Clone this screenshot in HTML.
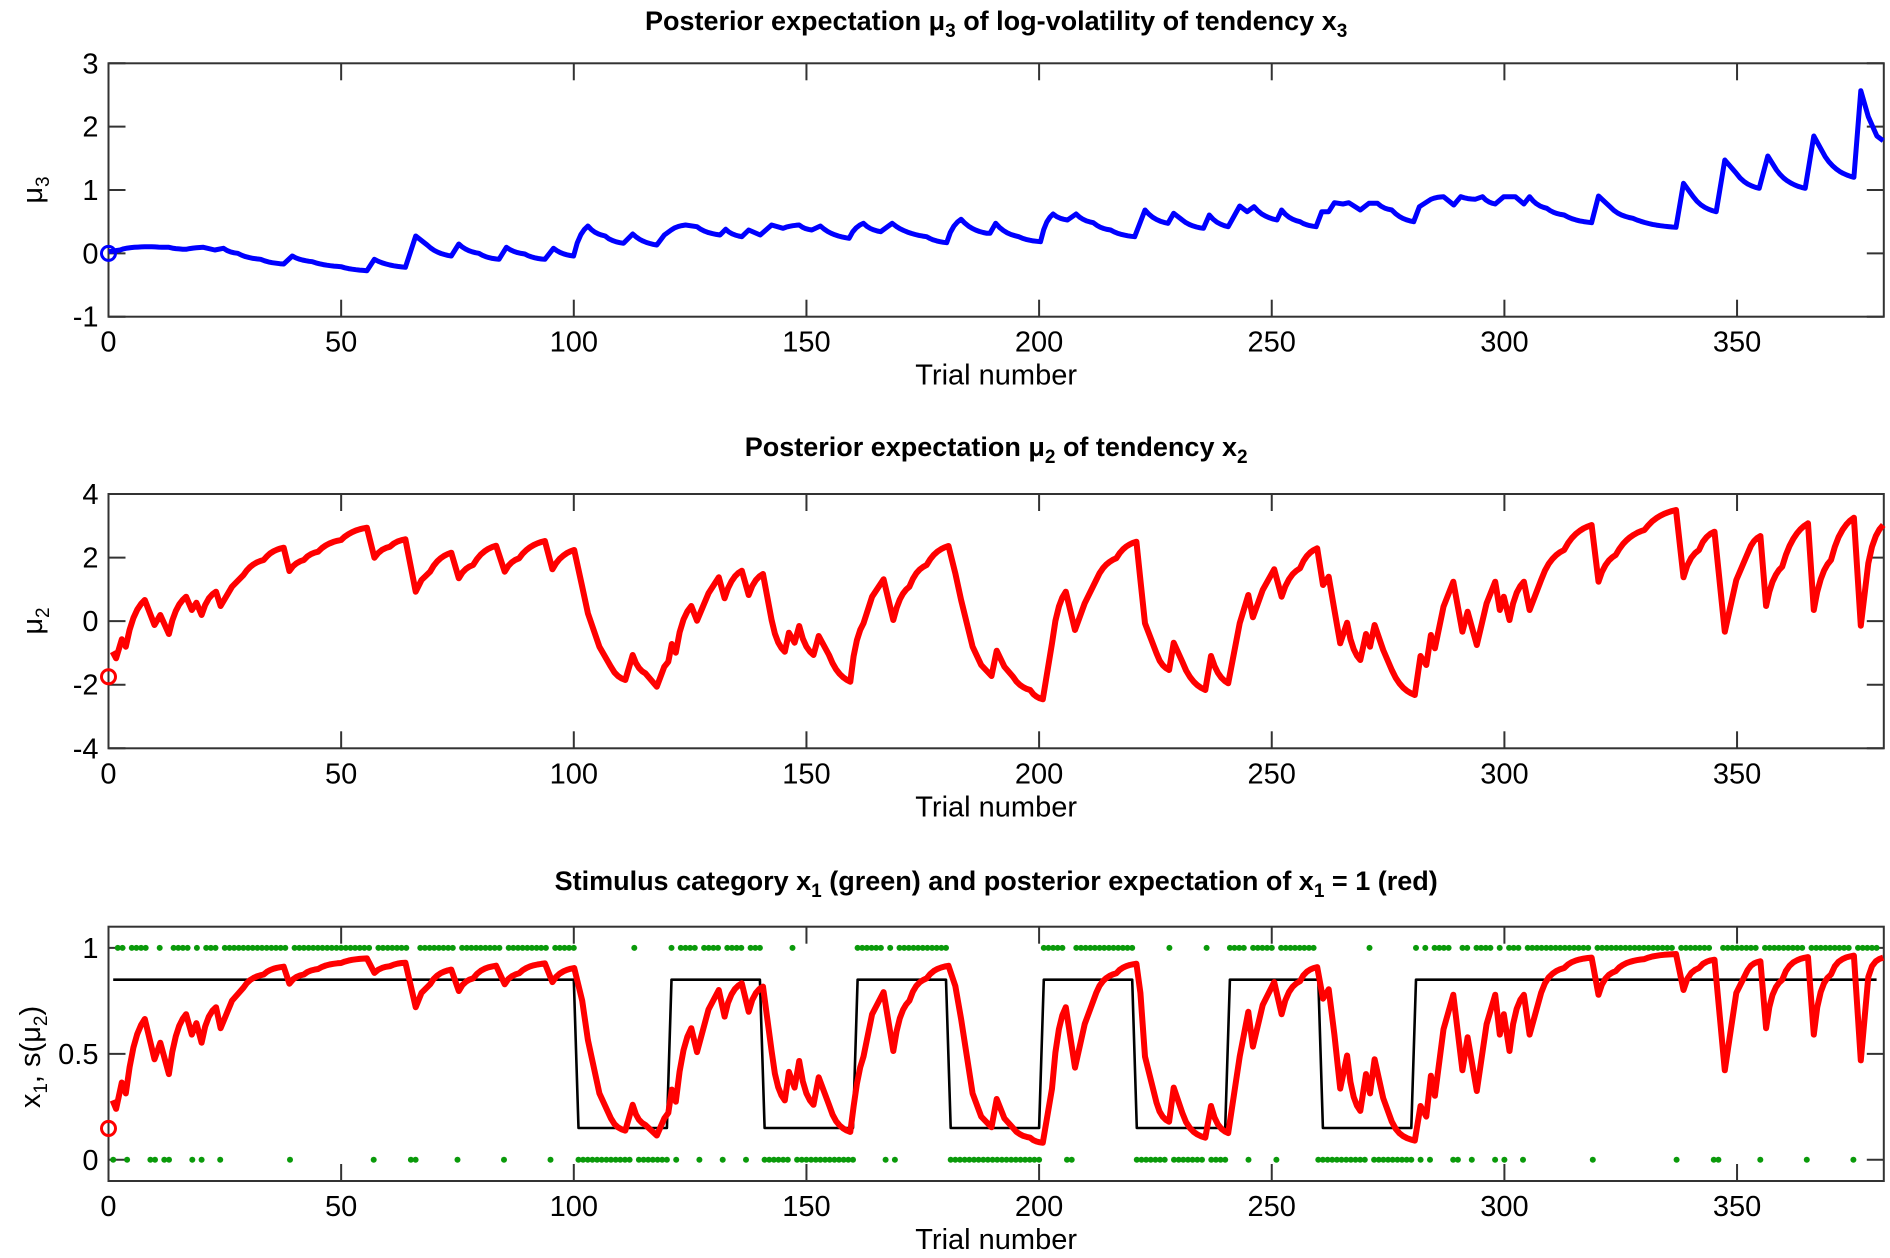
<!DOCTYPE html>
<html><head><meta charset="utf-8">
<style>
html,body{margin:0;padding:0;background:#fff;}
svg{display:block;font-family:"Liberation Sans",Arial,sans-serif;}
</style></head>
<body>
<svg id="c" width="1890" height="1258" viewBox="0 0 1890 1258"></svg>
<script>
(function(){
var s='';
var L=108.5,R=1883.8,PX=4.653;
function X(t){return L+t*PX;}
function axes(tp,bot,yt,ylab,ymin,ymax,title,titleY){
  var h=bot-tp;
  function Y(v){return bot-(v-ymin)/(ymax-ymin)*h;}
  s+='<rect x="'+L+'" y="'+tp+'" width="'+(R-L)+'" height="'+h+'" fill="none" stroke="#333" stroke-width="2"/>';
  for(var t=0;t<=350;t+=50){var x=X(t);
    s+='<line x1="'+x+'" y1="'+tp+'" x2="'+x+'" y2="'+(tp+17)+'" stroke="#333" stroke-width="2"/>';
    s+='<line x1="'+x+'" y1="'+bot+'" x2="'+x+'" y2="'+(bot-17)+'" stroke="#333" stroke-width="2"/>';
    s+='<text x="'+x+'" y="'+(bot+35)+'" font-size="29" text-anchor="middle">'+t+'</text>';}
  yt.forEach(function(v){var y=Y(v);
    s+='<line x1="'+L+'" y1="'+y+'" x2="'+(L+17)+'" y2="'+y+'" stroke="#333" stroke-width="2"/>';
    s+='<line x1="'+R+'" y1="'+y+'" x2="'+(R-17)+'" y2="'+y+'" stroke="#333" stroke-width="2"/>';
    s+='<text x="'+(L-10)+'" y="'+(y+10)+'" font-size="29" text-anchor="end">'+v+'</text>';});
  s+='<text x="'+((L+R)/2)+'" y="'+(bot+68)+'" font-size="29" text-anchor="middle">Trial number</text>';
  s+='<text x="'+((L+R)/2)+'" y="'+titleY+'" font-size="27" font-weight="bold" text-anchor="middle">'+title+'</text>';
  s+=ylab;
  return Y;
}
function sub(t){return '<tspan font-size="19" dy="7">'+t+'</tspan><tspan dy="-7"> </tspan>';}
var Y1=axes(63.3,316.7,[-1,0,1,2,3],'<text transform="translate(42,190) rotate(-90)" font-size="29" text-anchor="middle">μ'+sub('3')+'</text>',-1,3,
 'Posterior expectation μ'+sub('3')+'of log-volatility of tendency x'+sub('3'),30);
var Y2=axes(494,748.3,[-4,-2,0,2,4],'<text transform="translate(42,621) rotate(-90)" font-size="29" text-anchor="middle">μ'+sub('2')+'</text>',-4,4,
 'Posterior expectation μ'+sub('2')+'of tendency x'+sub('2'),456);
var Y3=axes(926.7,1181,[0,0.5,1],'<text transform="translate(40,1057) rotate(-90)" font-size="29" text-anchor="middle">x<tspan font-size="19" dy="7">1</tspan><tspan dy="-7">, s(μ</tspan><tspan font-size="19" dy="7">2</tspan><tspan dy="-7">)</tspan></text>',-0.1,1.1,
 'Stimulus category x'+sub('1')+'(green) and posterior expectation of x'+sub('1')+'= 1 (red)',890);

function conv(x0,y0,pts){return pts.map(function(p){return [x0+p[0]/1.742,y0+p[1]/3];});}
function smooth(P){var o=[P[0]];for(var i=1;i<P.length;i++){var a=P[i-1],b=P[i],dx=b[0]-a[0];
  if(dx>12){var n=Math.ceil(dx/4),k=1.8,den=1-Math.exp(-k);for(var j=1;j<=n;j++){var u=j/n;o.push([a[0]+dx*u,a[1]+(b[1]-a[1])*(1-Math.exp(-k*u))/den]);}}
  else o.push(b);}return o;}
function poly(P,col,w){s+='<polyline points="'+P.map(function(p){return p[0].toFixed(1)+','+p[1].toFixed(1);}).join(' ')+'" fill="none" stroke="'+col+'" stroke-width="'+w+'" stroke-linejoin="round"/>';}

var z5=[[15,605],[35,600],[60,592],[90,590],[120,592],[150,598],[180,592],[200,600],[215,595],[240,610],[280,628],[320,642],[335,618],[370,635],[420,650],[465,662],[478,628],[532,652],[550,558],[570,585],[612,618],[625,582],[660,610],[695,628],[708,592],[740,612],[775,628],[790,595],[825,618],[850,528],[880,558],[912,580],[928,552],[970,585],[983,555],[995,540],[1020,525],[1040,530],[1080,555],[1090,538],[1118,560],[1130,540],[1150,555],[1170,525],[1190,535],[1218,525],[1240,540],[1255,528],[1305,565],[1330,520],[1360,545],[1380,520],[1440,560],[1475,578],[1500,508],[1545,550]];
var z6=[[0,550],[10,520],[50,560],[88,575],[110,492],[135,510],[150,492],[180,518],[210,540],[252,560],[270,480],[310,520],[320,490],[335,510],[372,535],[382,495],[415,530],[435,468],[448,485],[460,470],[500,510],[508,480],[540,515],[568,530],[578,485],[590,485],[600,458],[615,462],[625,458],[645,480],[660,460],[675,460],[700,480],[738,515],[748,470],[768,448],[790,440],[808,465],[820,440],[845,448],[858,440],[880,462],[895,440],[915,440],[930,462],[940,440],[970,475],[1000,495],[1048,518],[1060,438],[1080,470],[1120,505],[1195,532],[1208,400],[1225,440],[1265,485],[1280,330],[1300,370],[1340,415],[1355,318],[1370,360],[1420,415],[1435,258],[1455,320],[1505,382],[1517,122],[1530,200],[1545,258],[1556,272]];
var topL=smooth(conv(100,50,z5).concat(conv(990,50,z6)));
poly(topL,'#0000ff',5);
s+='<circle cx="'+L+'" cy="'+Y1(0)+'" r="7" fill="none" stroke="#0000ff" stroke-width="3"/>';

var z3=[[22,515],[28,535],[38,478],[45,500],[78,360],[95,435],[105,405],[120,462],[150,350],[160,390],[168,368],[177,405],[202,335],[210,378],[230,320],[250,285],[285,240],[320,203],[330,273],[355,240],[380,215],[420,180],[465,143],[478,233],[505,200],[532,178],[550,335],[560,300],[575,275],[612,218],[625,295],[650,255],[690,197],[705,275],[730,235],[775,183],[788,268],[826,210],[840,320],[850,400],[870,500],[890,560],[915,600],[928,525],[950,580],[970,620],[983,560],[990,545],[996,492],[1003,518],[1030,378],[1040,422],[1060,340],[1078,292],[1088,355],[1118,272],[1130,345],[1155,282],[1170,420],[1193,515],[1200,458],[1210,488],[1218,438],[1243,525],[1252,468],[1270,525],[1307,605],[1330,430],[1345,350],[1365,298],[1382,420],[1410,320],[1440,255],[1478,198],[1490,280],[1500,360],[1520,500],[1535,555],[1553,588],[1562,512]];
var z4=[[25,560],[40,590],[70,630],[92,658],[108,490],[132,335],[148,450],[165,370],[185,300],[220,235],[255,185],[262,300],[270,430],[290,520],[312,570],[320,488],[335,545],[375,630],[385,528],[415,610],[435,430],[450,345],[458,412],[475,330],[495,268],[508,350],[540,265],[570,205],[580,315],[590,290],[600,390],[610,490],[622,428],[645,540],[655,462],[662,500],[670,435],[685,510],[700,570],[740,645],[750,528],[760,555],[768,465],[775,505],[790,380],[807,305],[823,455],[832,395],[848,495],[865,370],[880,305],[888,390],[895,350],[905,420],[930,305],[940,390],[960,300],[1000,210],[1048,135],[1060,305],[1090,225],[1140,150],[1195,90],[1208,292],[1235,210],[1262,155],[1280,455],[1300,300],[1320,220],[1342,168],[1352,378],[1380,260],[1425,130],[1435,390],[1465,240],[1505,113],[1517,437],[1530,250],[1556,135]];
var midL=smooth(conv(100,480,z3).concat(conv(990,480,z4)));
poly(midL,'#ff0000',6);
s+='<circle cx="'+L+'" cy="'+Y2(-1.75)+'" r="7" fill="none" stroke="#ff0000" stroke-width="3"/>';

var bl=[];
function lev(k){if(k<=100||k>280)return .85;var b=Math.floor((k-101)/20);return b%2==0?.15:.85;}
for(var k=1;k<=380;k++){bl.push([X(k),Y3(lev(k))]);}
var zeros={};
function add(a,b){for(var i=a;i<=(b||a);i++)zeros[i]=1;}
[1,4,9,10,12,13,18,20,24,39,57,65,66,75,85,95,120,122,127,132,137,148,167,169,206,207,245,251,270,282,284,289,290,293,298,300,304,319,337,345,346,355,365,375].forEach(function(v){add(v);});
add(101,112);add(114,119);add(141,146);add(149,160);add(181,200);add(221,227);add(229,235);add(237,240);add(260,269);add(272,280);
var d='';
for(var k2=1;k2<=380;k2++){var y=zeros[k2]?Y3(0):Y3(1);d+='<circle cx="'+X(k2).toFixed(1)+'" cy="'+y.toFixed(1)+'" r="3" fill="#0a9a0a"/>';}
s+=d;
poly(bl,'#000',2.6);
var botL=midL.map(function(p){var v=(621.7-p[1])/31.8;var q=1/(1+Math.exp(-v));return [p[0],Y3(q)];});
poly(botL,'#ff0000',6);
s+='<circle cx="'+L+'" cy="'+Y3(1/(1+Math.exp(1.75)))+'" r="7" fill="none" stroke="#ff0000" stroke-width="3"/>';
document.getElementById('c').innerHTML=s;
})();
</script>
</body></html>
